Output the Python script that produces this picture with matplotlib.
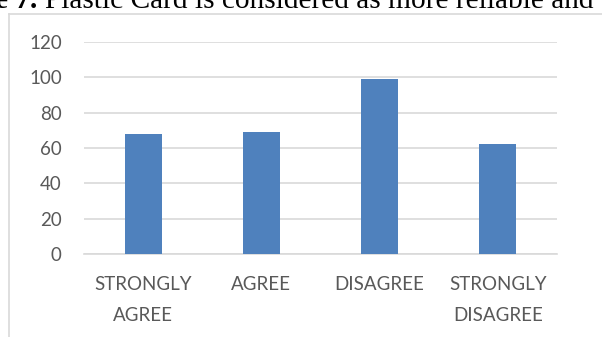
import matplotlib.pyplot as plt
from matplotlib.lines import Line2D

categories = ["STRONGLY\nAGREE", "AGREE", "DISAGREE", "STRONGLY\nDISAGREE"]
responses = [68, 69, 99, 62]
y_ticks = [0, 20, 40, 60, 80, 100, 120]

BAR = "#4f81bd"
GRID = "#d9d9d9"
LABEL = "#595959"

W, H = 602, 337
fig = plt.figure(figsize=(W / 100, H / 100), dpi=100)

# caption line from the document, mostly above the top edge
fig.text(37 / W, 1 - 7.5 / H, "e 7.", ha="right", va="baseline",
         fontfamily="Liberation Serif", fontweight="bold", fontsize=21.2, color="black")
fig.text(45 / W, 1 - 7.5 / H, "Plastic Card is considered as more reliable and",
         ha="left", va="baseline", fontfamily="Liberation Serif",
         fontsize=21.2, color="black")

# chart area border (top and left edges only show)
fig.add_artist(Line2D([8.5 / W, 8.5 / W], [0, 1 - 14 / H], color=GRID, lw=1.2))
fig.add_artist(Line2D([8.5 / W, 1], [1 - 14 / H, 1 - 14 / H], color=GRID, lw=1.2))

ax = fig.add_axes([84 / W, 1 - 254 / H, 473 / W, 212 / H])
x = range(len(categories))
ax.bar(x, responses, width=0.313, color=BAR, zorder=3)

ax.set_xlim(-0.5, len(categories) - 0.5)
ax.set_ylim(0, 120)
ax.set_yticks(y_ticks)
ax.set_xticks(list(x))
ax.set_xticklabels(categories, linespacing=2.0)
ax.yaxis.grid(True, color=GRID, lw=1.2, zorder=0)
ax.set_axisbelow(True)

for side in ["top", "right", "left"]:
    ax.spines[side].set_visible(False)
ax.spines["bottom"].set_color(GRID)
ax.spines["bottom"].set_linewidth(1.2)
ax.tick_params(axis="both", length=0, labelcolor=LABEL, labelsize=13.5)
ax.tick_params(axis="y", pad=16)
ax.tick_params(axis="x", pad=15.5)
for lbl in ax.get_xticklabels() + ax.get_yticklabels():
    lbl.set_fontfamily("Lato")

fig.savefig("out.png", dpi=100)
